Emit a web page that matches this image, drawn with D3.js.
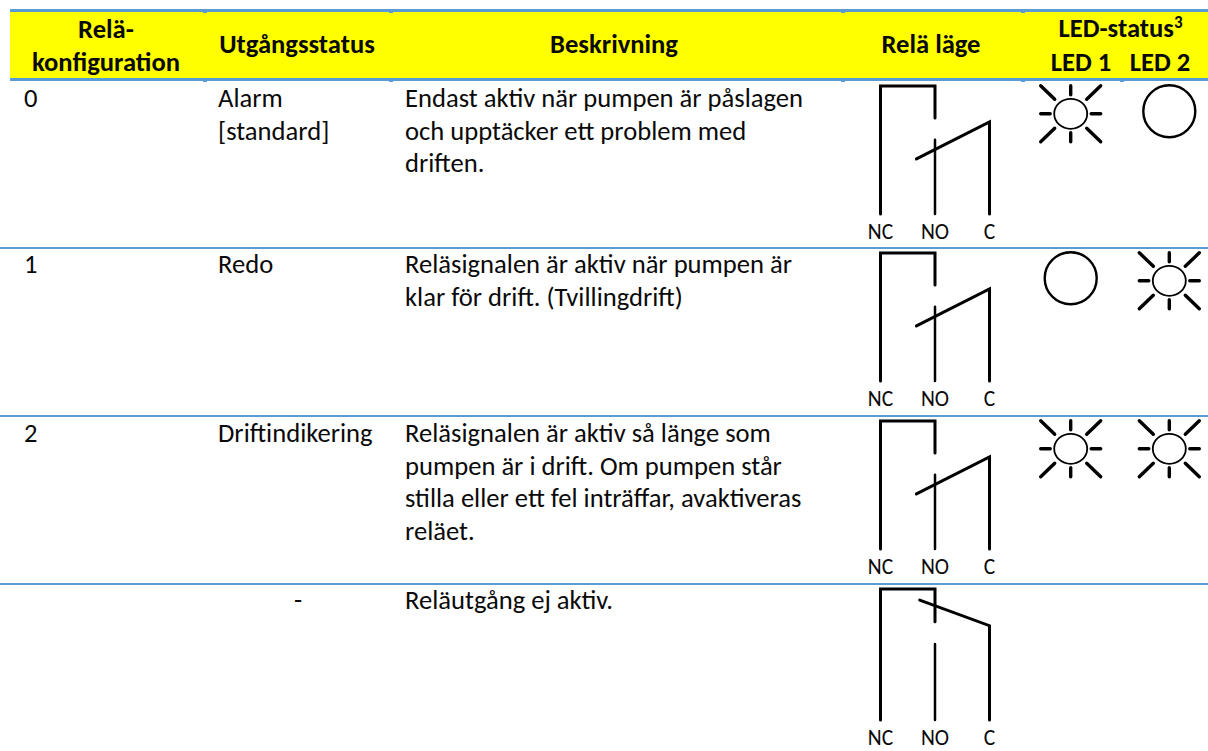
<!DOCTYPE html>
<html>
<head>
<meta charset="utf-8">
<script src="https://cdn.jsdelivr.net/npm/d3@7/dist/d3.min.js"></script>
<style>
  html, body { margin: 0; padding: 0; background: #fff; }
  svg { display: block; }
  text { font-family: Carlito, Lato, "Open Sans", sans-serif; fill: #0a0a0a; }
</style>
</head>
<body>
<div id="chart"></div>
<script>
// table content
var configs = ['0', '1', '2', ''];
var outputs = [['Alarm', '[standard]'], ['Redo'], ['Driftindikering'], ['-']];
var descriptions = [
  ['Endast aktiv när pumpen är påslagen', 'och upptäcker ett problem med', 'driften.'],
  ['Reläsignalen är aktiv när pumpen är', 'klar för drift. (Tvillingdrift)'],
  ['Reläsignalen är aktiv så länge som', 'pumpen är i drift. Om pumpen står', 'stilla eller ett fel inträffar, avaktiveras', 'reläet.'],
  ['Reläutgång ej aktiv.']
];
var led1 = ['on', 'off', 'on', null];
var led2 = ['off', 'on', 'on', null];
var relayState = ['active', 'active', 'active', 'idle'];
var terminals = ['NC', 'NO', 'C'];

var W = 1208, H = 751;
var svg = d3.select('#chart').append('svg').attr('width', W).attr('height', H);

// layout, in px
var rowTop = [248, 416, 584];
var textBase = [107, 273, 442, 609];
var relayTop = [86, 253, 421, 589];
var relayBottom = [214, 381, 549, 720];
var colEdges = [205, 391, 843, 1023, 1122];
var colX = { config: 24, output: 218, desc: 405, led1: 1070.7, led2: 1169.3 };
var FS = 26.6, LH = 32.6, BLUE = '#5b9bd5';

// header band
svg.append('rect').attr('x', 10).attr('y', 11).attr('width', W - 10).attr('height', 68).attr('fill', '#ffff00');
svg.selectAll('line.head').data([10.5, 79.5]).join('line')
  .attr('class', 'head')
  .attr('x1', 10).attr('x2', W)
  .attr('y1', function (d) { return d; }).attr('y2', function (d) { return d; })
  .attr('stroke', BLUE).attr('stroke-width', 3);
svg.selectAll('rect.edge').data(colEdges).join('rect')
  .attr('class', 'edge')
  .attr('x', function (d) { return d - 2; }).attr('y', 79)
  .attr('width', 4).attr('height', 3).attr('fill', BLUE);
svg.selectAll('rect.edgeTop').data(colEdges.slice(0, 4)).join('rect')
  .attr('class', 'edgeTop')
  .attr('x', function (d) { return d - 2; }).attr('y', 10)
  .attr('width', 4).attr('height', 3).attr('fill', BLUE);

// row rules
svg.selectAll('line.rule').data(rowTop).join('line')
  .attr('class', 'rule')
  .attr('x1', 0).attr('x2', W)
  .attr('y1', function (d) { return d; }).attr('y2', function (d) { return d; })
  .attr('stroke', BLUE).attr('stroke-width', 2);

function bold(x, y, s) {
  return svg.append('text').attr('x', x).attr('y', y).attr('text-anchor', 'middle')
    .attr('font-size', 26.6).attr('font-weight', 700).text(s);
}

bold(106, 38, 'Relä-');
bold(106, 70.5, 'konfiguration');
bold(297, 53, 'Utgångsstatus');
bold(614, 53, 'Beskrivning');
bold(931, 53, 'Relä läge');
var ledHead = bold(1120.5, 37, 'LED-status');
ledHead.append('tspan').attr('font-size', 17).attr('dy', -9).text('3');
bold(1081, 70.5, 'LED 1');
bold(1160, 70.5, 'LED 2');

function lines(x, y, arr, anchor) {
  svg.append('g').selectAll('text').data(arr).join('text')
    .attr('x', x).attr('y', function (d, i) { return y + i * LH; })
    .attr('text-anchor', anchor || 'start')
    .attr('font-size', FS).text(function (d) { return d; });
}

// relay schematic units: x along the terminals, y from 0 (top) to 100 (terminal end)
var termX = d3.scalePoint().domain(terminals).range([880.5, 989.5]);
var unitX = d3.scaleLinear().domain([0, 1]).range([880.5, 989.5]);
var noGapActive = [25, 42], noGapIdle = [25, 42];
var bladeActive = [[0.33, 57], [1, 28]];
var bladeIdle = [[0.36, 8.5], [1, 28]];

// LED glyph geometry
var rays = [[0, -1], [0, 1], [-1, 0], [1, 0], [-1, -1], [1, -1], [-1, 1], [1, 1]];
function drawLed(g, state, cx, top) {
  if (state === 'off') {
    g.append('circle').attr('cx', cx).attr('cy', top + 25.3).attr('r', 26)
      .attr('fill', 'none').attr('stroke', '#000').attr('stroke-width', 2.4);
    return;
  }
  var cy = top + 27.8;
  g.append('ellipse').attr('cx', cx).attr('cy', cy).attr('rx', 16.5).attr('ry', 15)
    .attr('fill', 'none').attr('stroke', '#000').attr('stroke-width', 1.8);
  g.selectAll('line').data(rays).join('line')
    .attr('x1', function (d) { return cx + d[0] * (d[0] && d[1] ? 16 : 20.5); })
    .attr('y1', function (d) { return cy + d[1] * (d[0] && d[1] ? 14.5 : 19); })
    .attr('x2', function (d) { return cx + d[0] * 30; })
    .attr('y2', function (d) { return cy + d[1] * 28; })
    .attr('stroke', '#000').attr('stroke-width', 3.4).attr('stroke-linecap', 'round');
}

configs.forEach(function (cfg, i) {
  var base = textBase[i];
  lines(colX.config, base, [cfg]);
  if (outputs[i][0] === '-') lines(298, base, outputs[i], 'middle');
  else lines(colX.output, base, outputs[i]);
  lines(colX.desc, base, descriptions[i]);

  var y = d3.scaleLinear().domain([0, 100]).range([relayTop[i], relayBottom[i]]);
  var g = svg.append('g').attr('fill', 'none').attr('stroke', '#000').attr('stroke-linecap', 'round');
  var active = relayState[i] === 'active';
  var gap = active ? noGapActive : noGapIdle;
  var blade = active ? bladeActive : bladeIdle;

  g.append('path').attr('stroke-width', 3)
    .attr('d', d3.line()([[termX('NC'), y(100)], [termX('NC'), y(0)], [termX('NO'), y(0)], [termX('NO'), y(gap[0])]]));
  g.append('path').attr('stroke-width', 2.5)
    .attr('d', d3.line()([[termX('NO'), y(gap[1])], [termX('NO'), y(100)]]));
  g.append('path').attr('stroke-width', 3)
    .attr('d', d3.line()([[unitX(blade[0][0]), y(blade[0][1])], [unitX(blade[1][0]), y(blade[1][1])], [termX('C'), y(100)]]));

  svg.append('g').selectAll('text').data(terminals).join('text')
    .attr('x', function (d) { return termX(d); })
    .attr('y', y(100) + 24.5)
    .attr('text-anchor', 'middle').attr('font-size', 21.5)
    .text(function (d) { return d; });

  var ledG = svg.append('g');
  if (led1[i]) drawLed(ledG.append('g'), led1[i], colX.led1, relayTop[i]);
  if (led2[i]) drawLed(ledG.append('g'), led2[i], colX.led2, relayTop[i]);
});
</script>
</body>
</html>
